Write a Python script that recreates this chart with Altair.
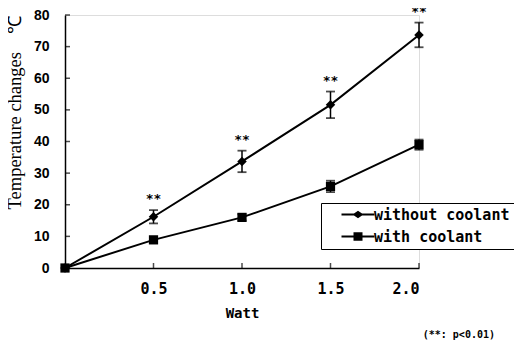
import altair as alt
import pandas as pd

watt = [0, 0.5, 1.0, 1.5, 2.0]
without_vals = [0, 16.2, 33.7, 51.6, 73.7]
without_err = [0, 2.1, 3.4, 4.2, 3.9]
with_vals = [0, 8.9, 16.0, 25.8, 39.0]
with_err = [0, 0.8, 1.0, 1.8, 1.6]
stars = ["", "**", "**", "**", "**"]
series_names = ["without coolant", "with coolant"]
x_ticks = [0.5, 1.0, 1.5, 2.0]
y_ticks = [0, 10, 20, 30, 40, 50, 60, 70, 80]

rows = []
for i, w in enumerate(watt):
    rows.append({"series": series_names[0], "watt": w, "value": without_vals[i], "err": without_err[i], "star": stars[i]})
for i, w in enumerate(watt):
    rows.append({"series": series_names[1], "watt": w, "value": with_vals[i], "err": with_err[i], "star": ""})
df = pd.DataFrame(rows)
xt = pd.DataFrame({"t": x_ticks})
yt = pd.DataFrame({"t": y_ticks})

xscale = alt.Scale(domain=[0, 2], nice=False, zero=True)
yscale = alt.Scale(domain=[0, 80], nice=False)

x_axis = alt.Axis(
    values=x_ticks, format=".1f", ticks=False, grid=False, title="Watt", labelOverlap=False,
    labelFont="DejaVu Sans Mono", labelFontSize=15, labelFontWeight="bold", labelColor="black",
    labelPadding=13, domainColor="black", domainWidth=1.5,
    titleFont="DejaVu Sans Mono", titleFontSize=14, titleFontWeight="bold", titleColor="black",
    titleY=45, titleBaseline="middle")
y_axis = alt.Axis(
    values=y_ticks, ticks=False, grid=False,
    title="Temperature changes\u00a0\u00a0\u00a0\u00a0℃", labelOverlap=False,
    labelFont="Liberation Sans", labelFontSize=14, labelFontWeight="bold", labelColor="black",
    labelPadding=16, domainColor="black", domainWidth=1.5,
    titleFont="Liberation Serif", titleFontSize=18.5, titleFontWeight="normal", titleColor="black",
    titleX=-51, titleY=97, titleAngle=-90, titleBaseline="middle", titleAlign="center")

def xq(f):
    return alt.X(f, scale=xscale, axis=x_axis)

def yq(f):
    return alt.Y(f, scale=yscale, axis=y_axis)

base = alt.Chart(df)

lines = base.mark_line(color="black", strokeWidth=2).encode(x=xq("watt:Q"), y=yq("value:Q"), detail="series:N")

err_base = base.transform_calculate(lo="datum.value - datum.err", hi="datum.value + datum.err").transform_filter("datum.err > 0")
err_rule = err_base.mark_rule(color="black", strokeWidth=1.5).encode(
    x=xq("watt:Q"), y=yq("lo:Q"), y2="hi:Q")
cap_lo = err_base.mark_tick(color="black", orient="horizontal", size=9, thickness=1.8).encode(
    x=xq("watt:Q"), y=yq("lo:Q"))
cap_hi = err_base.mark_tick(color="black", orient="horizontal", size=9, thickness=1.8).encode(
    x=xq("watt:Q"), y=yq("hi:Q"))

pts_without = base.transform_filter(alt.datum.series == series_names[0]).mark_point(
    shape="diamond", filled=True, color="black", size=90, opacity=1).encode(x=xq("watt:Q"), y=yq("value:Q"))
pts_with = base.transform_filter(alt.datum.series == series_names[1]).mark_point(
    shape="square", filled=True, color="black", size=85, opacity=1).encode(x=xq("watt:Q"), y=yq("value:Q"))

star_text = err_base.transform_filter("datum.star != ''").mark_text(
    font="DejaVu Sans Mono", fontSize=13, fontWeight="bold", color="black", dy=-11, baseline="middle").encode(
    x=xq("watt:Q"), y=yq("hi:Q"), text="star:N")

xtick_marks = alt.Chart(xt).mark_tick(color="black", orient="vertical", size=5, thickness=1.5, yOffset=-2.5).encode(
    x=xq("t:Q"), y=alt.datum(0, scale=yscale, axis=y_axis))
ytick_marks = alt.Chart(yt).mark_tick(color="black", orient="horizontal", size=5, thickness=1.5, xOffset=2.5).encode(
    y=yq("t:Q"), x=alt.datum(0, scale=xscale, axis=x_axis))

path_without = "M1.8,-0.22H8.4V0.22H1.8ZM5.1,-0.75L6.2,0L5.1,0.75L4.0,0Z"
path_with = "M1.8,-0.22H8.4V0.22H1.8ZM4.2,-0.85H6.0V0.85H4.2Z"
legend_layer = base.transform_filter("false").mark_point(filled=True, color="black").encode(
    x=xq("watt:Q"), y=yq("value:Q"),
    shape=alt.Shape("series:N", scale=alt.Scale(domain=series_names, range=[path_without, path_with]),
                    legend=alt.Legend(title=None, orient="none", legendX=256, legendY=188,
                                      strokeColor="black", fillColor="white", padding=4,
                                      labelFont="DejaVu Sans Mono", labelFontSize=15, labelFontWeight="bold",
                                      labelColor="black", labelOffset=34, rowPadding=6,
                                      symbolSize=100, symbolStrokeWidth=0,
                                      symbolFillColor="black", symbolOpacity=1)))

chart = alt.layer(lines, err_rule, cap_lo, cap_hi, pts_without, pts_with, star_text,
                  xtick_marks, ytick_marks, legend_layer).properties(
    width=354, height=253,
    title=alt.TitleParams("(**: p<0.01)", orient="bottom", anchor="end", frame="group",
                          font="DejaVu Sans Mono", fontSize=10, fontWeight="bold", color="black",
                          dx=76, offset=10),
    autosize=alt.AutoSizeParams(type="none"),
    padding={"left": 57, "top": 7, "right": 95, "bottom": 86},
).configure_view(stroke=None).configure(background="white")

chart.save("out.html", embed_options={"renderer": "svg", "actions": False})
